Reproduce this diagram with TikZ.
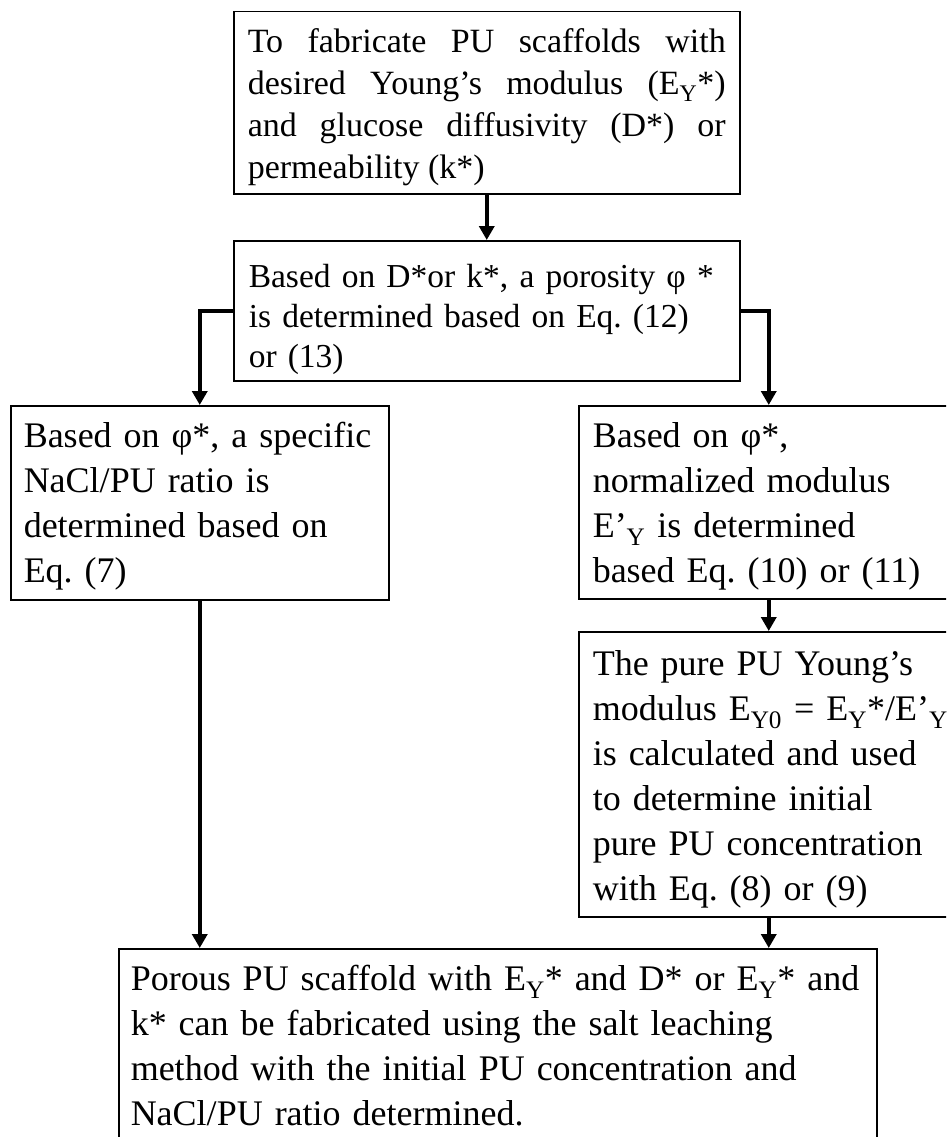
\documentclass[tikz,border=0pt]{standalone}
\usepackage{fontspec}
\setmainfont{Liberation Serif}
\frenchspacing
\usetikzlibrary{arrows.meta,calc}
\tikzset{
  box/.style={draw=black, line width=1.5pt, anchor=north west, inner ysep=0pt, align=left},
  arr/.style={line width=4pt, -{Triangle[length=14pt,width=15pt]}},
  fA/.style={font=\fontsize{34pt}{42pt}\selectfont\frenchspacing},
  fB/.style={font=\fontsize{33.5pt}{40pt}\selectfont\frenchspacing},
  fC/.style={font=\fontsize{36pt}{45pt}\selectfont\frenchspacing},
}
\begin{document}
\begin{tikzpicture}[x=1pt,y=-1pt]
\useasboundingbox (0,0) rectangle (946,1137);
\clip (0,0) rectangle (946,1137);
\fill[white] (0,0) rectangle (946,1137);

\node[box, fA, align=justify, text width=478pt, inner xsep=14pt, text height=41pt, text depth=141pt] (b1) at (233,11)
 {To fabricate PU scaffolds with\linebreak desired Young’s modulus (E\textsubscript{Y}*)\linebreak and glucose diffusivity (D*) or\linebreak permeability (k*)};

\node[box, fB, text width=476pt, inner xsep=15pt, text height=47pt, text depth=93pt] (b2) at (233,240)
 {\mbox{Based on D*or k*, a porosity φ *}\\ \mbox{is determined based on Eq. (12)}\\ \mbox{or (13)}};

\node[box, fC, text width=352pt, inner xsep=13pt, text height=42pt, text depth=152pt] (b3) at (10,405)
 {\mbox{Based on φ*, a specific}\\ \mbox{NaCl/PU ratio is}\\ \mbox{determined based on}\\ \mbox{Eq. (7)}};

\node[box, fC, text width=352pt, inner xsep=14pt, text height=42pt, text depth=151pt] (b4) at (578,405)
 {\mbox{Based on φ*,}\\ \mbox{normalized modulus}\\ \mbox{E’\textsubscript{Y} is determined}\\ \mbox{based Eq. (10) or (11)}};

\node[box, fC, text width=352pt, inner xsep=14pt, text height=44pt, text depth=241pt] (b5) at (578,631)
 {\mbox{The pure PU Young’s}\\ \mbox{modulus E\textsubscript{Y0} = E\textsubscript{Y}*/E’\textsubscript{Y}}\\ \mbox{is calculated and used}\\ \mbox{to determine initial}\\ \mbox{pure PU concentration}\\ \mbox{with Eq. (8) or (9)}};

\node[box, fC, text width=734pt, inner xsep=12pt, text height=42pt, text depth=170pt] (b6) at (118,948)
 {\mbox{Porous PU scaffold with E\textsubscript{Y}* and D* or E\textsubscript{Y}* and}\\ \mbox{k* can be fabricated using the salt leaching}\\ \mbox{method with the initial PU concentration and}\\ \mbox{NaCl/PU ratio determined.}};

\draw[arr] (b1) -- (b2);
\draw[arr] (b2.west) -| (b3.north);
\draw[arr] (b2.east) -| (b4.north);
\draw[arr] (b4) -- (b5);
\draw[arr] (b3.south) -- (b3.south |- b6.north);
\draw[arr] (b5.south) -- (b5.south |- b6.north);
\end{tikzpicture}
\end{document}
